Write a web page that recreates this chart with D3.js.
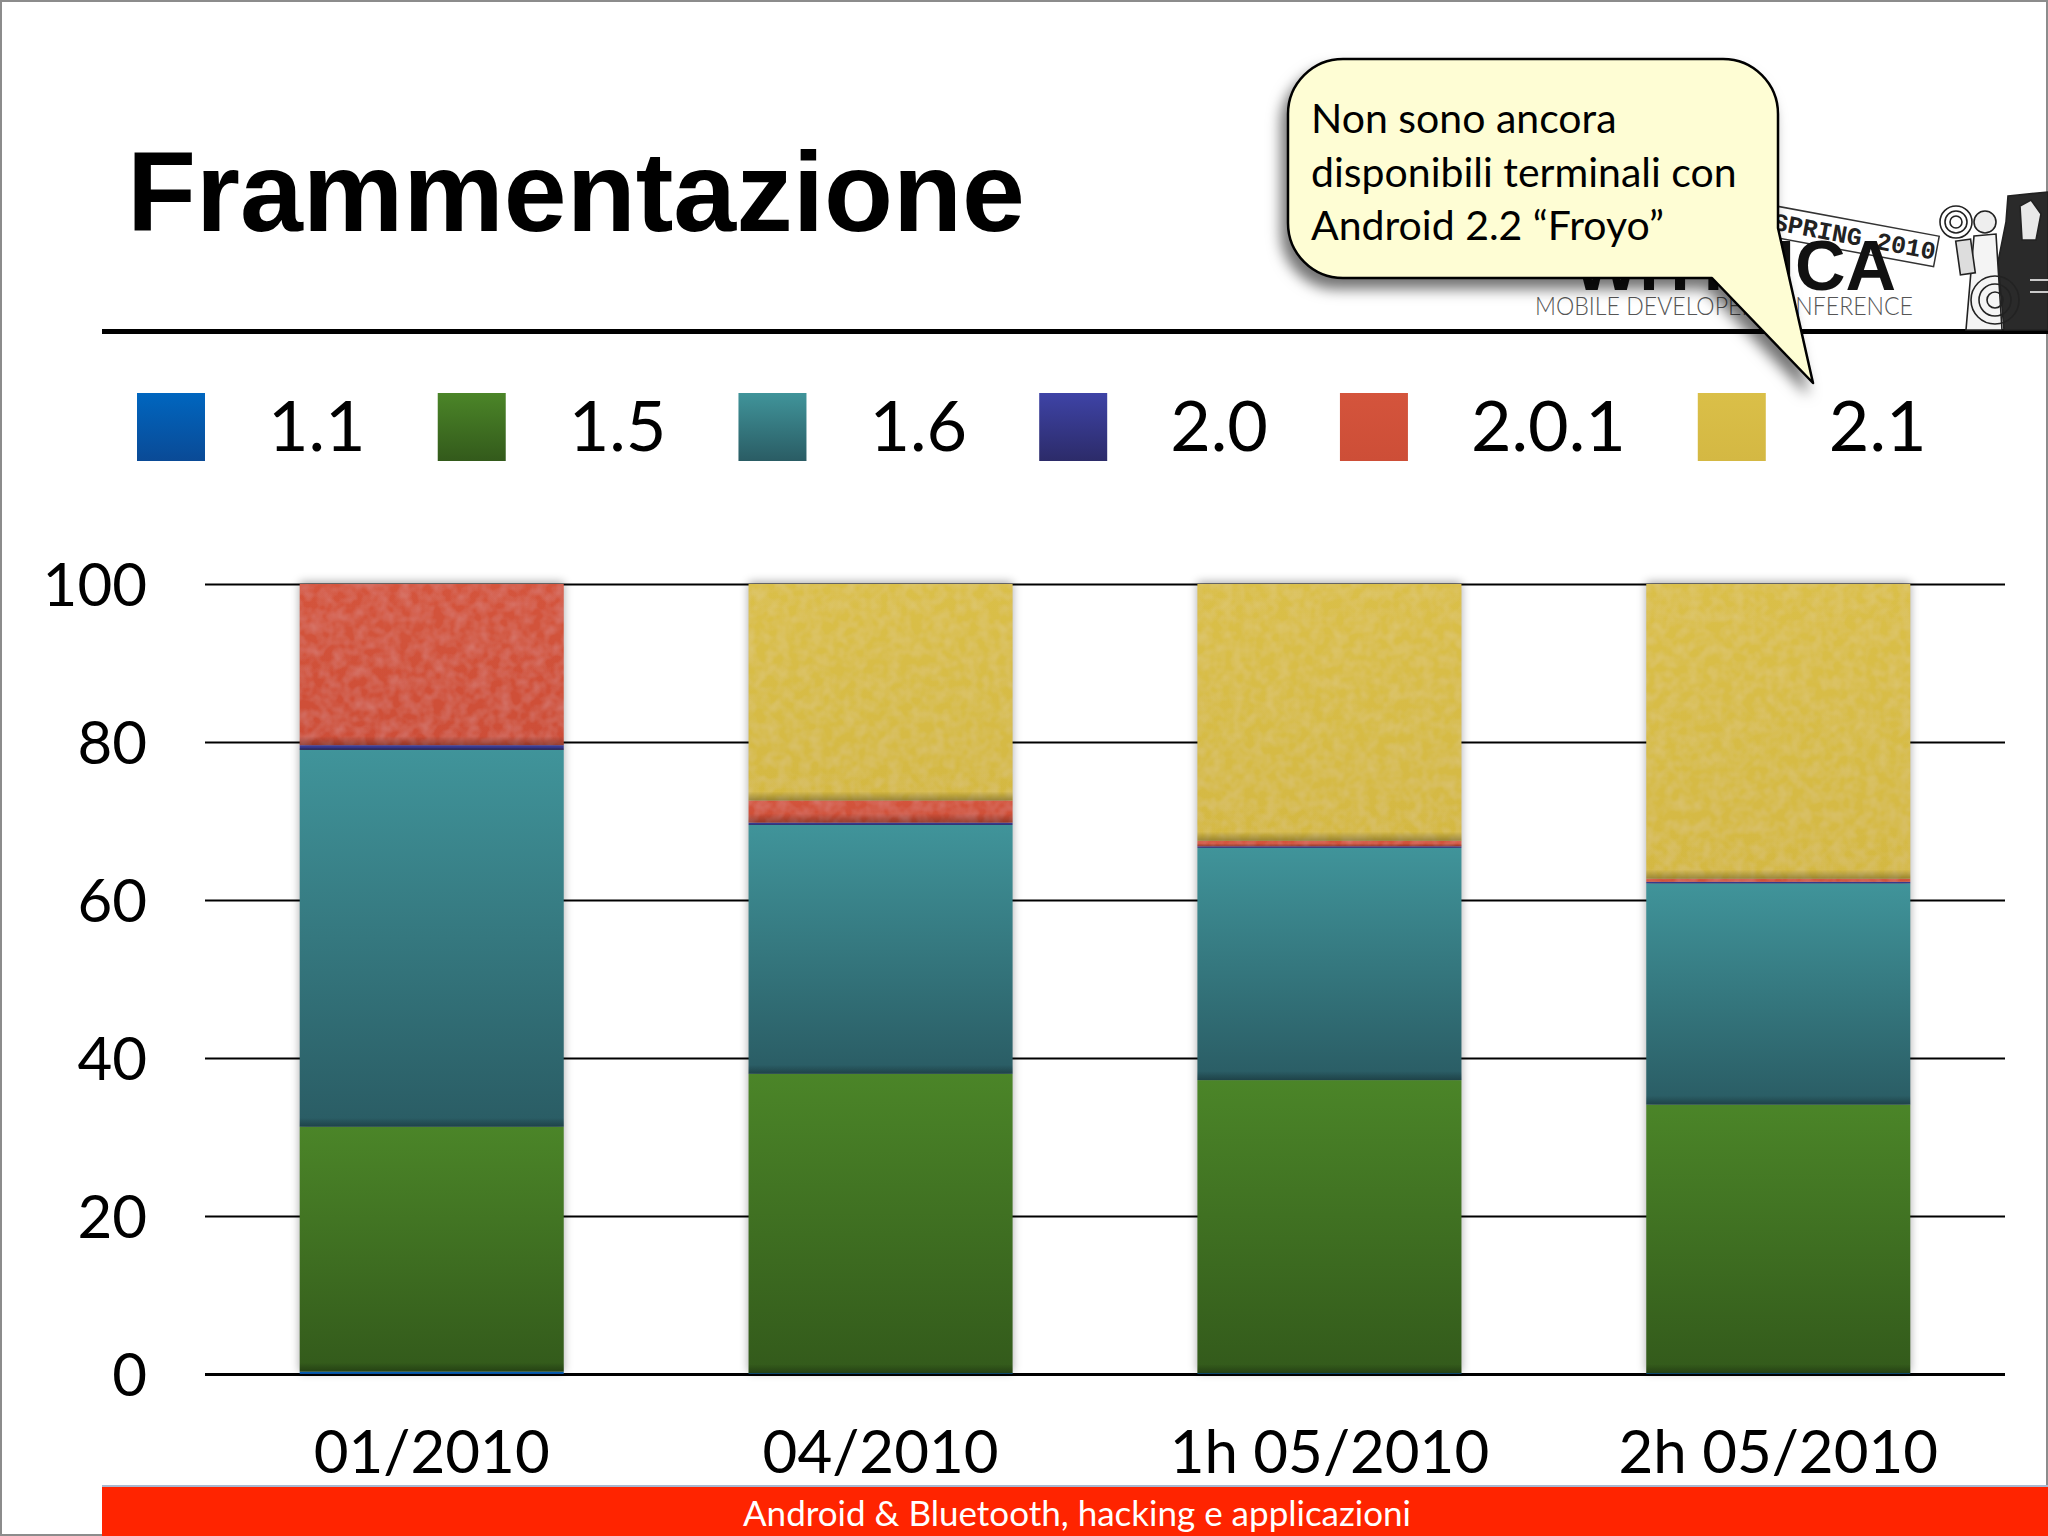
<!DOCTYPE html>
<html><head><meta charset="utf-8">
<script src="https://cdn.jsdelivr.net/npm/d3@7"></script>
<style>body{margin:0;background:#fff;} svg{display:block;}</style>
</head><body>
<script>
// ---------- data ----------
const categories = ["01/2010", "04/2010", "1h 05/2010", "2h 05/2010"];
const versions   = ["1.1", "1.5", "1.6", "2.0", "2.0.1", "2.1"];
const v11  = [0.3, 0.1, 0.1, 0.1];
const v15  = [31.0, 37.9, 37.1, 34.0];
const v16  = [47.7, 31.5, 29.4, 28.0];
const v20  = [0.6, 0.3, 0.2, 0.2];
const v201 = [20.4, 2.8, 0.7, 0.4];
const v21  = [0.0, 27.4, 32.5, 37.3];
const yTicks = [0, 20, 40, 60, 80, 100];
const titleText = "Frammentazione";
const calloutLines = ["Non sono ancora", "disponibili terminali con", "Android 2.2 \u201CFroyo\u201D"];
const footerText = "Android & Bluetooth, hacking e applicazioni";

// ---------- styles ----------
const colorTop    = ["#0066bf", "#4b8528", "#40949a", "#3e43a6", "#d4543c", "#dabf48"];
const colorBottom = ["#0a4a96", "#335a1b", "#2a5c64", "#2c2b69", "#cd4e37", "#d4b843"];

const W = 2048, H = 1536;
const seriesValues = [v11, v15, v16, v20, v201, v21];
const table = categories.map((c, i) => {
  const row = {cat: c};
  versions.forEach((v, k) => row[v] = seriesValues[k][i]);
  return row;
});

const svg = d3.select("body").append("svg").attr("width", W).attr("height", H)
  .style("font-family", "Lato, 'Open Sans', sans-serif");
const defs = svg.append("defs");

versions.forEach((v, k) => {
  const g = defs.append("linearGradient").attr("id", "grad" + k)
    .attr("x1", 0).attr("y1", 0).attr("x2", 0).attr("y2", 1);
  g.append("stop").attr("offset", 0).attr("stop-color", colorTop[k]);
  g.append("stop").attr("offset", 1).attr("stop-color", colorBottom[k]);
});
const sh = defs.append("linearGradient").attr("id", "segShade")
  .attr("x1", 0).attr("y1", 0).attr("x2", 0).attr("y2", 1);
sh.append("stop").attr("offset", 0).attr("stop-color", "#000").attr("stop-opacity", 0);
sh.append("stop").attr("offset", 1).attr("stop-color", "#000").attr("stop-opacity", 0.28);

const fShadow = defs.append("filter").attr("id", "barShadow")
  .attr("x", "-10%").attr("y", "-10%").attr("width", "120%").attr("height", "120%");
fShadow.append("feGaussianBlur").attr("in", "SourceAlpha").attr("stdDeviation", 5);
fShadow.append("feOffset").attr("dx", 0).attr("dy", -2).attr("result", "b");
fShadow.append("feComponentTransfer").attr("in", "b").attr("result", "bs")
  .append("feFuncA").attr("type", "linear").attr("slope", 0.35);

const fBubble = defs.append("filter").attr("id", "bubbleShadow")
  .attr("x", "-20%").attr("y", "-20%").attr("width", "140%").attr("height", "150%");
fBubble.append("feDropShadow").attr("dx", -6).attr("dy", 10).attr("stdDeviation", 7)
  .attr("flood-color", "#000").attr("flood-opacity", 0.55);

const fTex = defs.append("filter").attr("id", "tex").attr("x", 0).attr("y", 0).attr("width", 1).attr("height", 1);
fTex.append("feTurbulence").attr("type", "fractalNoise").attr("baseFrequency", 0.09)
  .attr("numOctaves", 2).attr("seed", 4).attr("result", "n");
fTex.append("feColorMatrix").attr("in", "n").attr("type", "matrix")
  .attr("values", "0 0 0 0 1  0 0 0 0 1  0 0 0 0 1  0.16 0 0 0 -0.05").attr("result", "w");
fTex.append("feComposite").attr("in", "w").attr("in2", "SourceGraphic").attr("operator", "in").attr("result", "wc");
const fm = fTex.append("feMerge");
fm.append("feMergeNode").attr("in", "SourceGraphic");
fm.append("feMergeNode").attr("in", "wc");

// ---------- frame ----------
svg.append("rect").attr("x", 1).attr("y", 1).attr("width", W - 2).attr("height", H - 2)
  .attr("fill", "#fff").attr("stroke", "#8c8c8c").attr("stroke-width", 2);

// ---------- title ----------
svg.append("text").attr("x", 127).attr("y", 231).text(titleText)
  .style("font-family", "'Liberation Sans', Arial, sans-serif").style("font-weight", "bold")
  .style("font-size", "113px").attr("fill", "#000");
svg.append("rect").attr("x", 102).attr("y", 329).attr("width", W - 102).attr("height", 5).attr("fill", "#000");

// ---------- logo (behind callout) ----------
const logo = svg.append("g");
const stamp = logo.append("g").attr("transform", "translate(1776,206) rotate(10.5)");
stamp.append("rect").attr("x", -12).attr("y", 0).attr("width", 178).attr("height", 31)
  .attr("fill", "#fff").attr("stroke", "#333").attr("stroke-width", 1.5);
stamp.append("text").attr("x", 0).attr("y", 24).text("SPRING 2010")
  .style("font-family", "'Liberation Mono', 'DejaVu Sans Mono', monospace").style("font-weight", "bold")
  .style("font-size", "25px").attr("fill", "#222");
logo.append("text").attr("x", 1896).attr("y", 290).attr("text-anchor", "end").text("WHYMCA")
  .style("font-family", "'Liberation Sans', Arial, sans-serif").style("font-weight", "bold")
  .style("font-size", "70px").attr("fill", "#111");
logo.append("text").attr("x", 1535).attr("y", 315).text("MOBILE DEVELOPER CONFERENCE")
  .attr("textLength", 378).attr("lengthAdjust", "spacingAndGlyphs")
  .style("font-weight", 300).style("font-size", "25px").attr("fill", "#555");
// illustration hint
const ill = logo.append("g").attr("stroke", "#222").attr("fill", "none").attr("stroke-width", 1.6);
ill.append("path").attr("d", "M2008,196 L2048,192 L2048,330 L2004,330 L1998,262 L2006,222 Z").attr("fill", "#2a2a2a");
ill.append("path").attr("d", "M1974,236 L1996,234 L2002,330 L1966,330 Z").attr("fill", "#f4f4f4");
[6, 11, 16].forEach(r => ill.append("circle").attr("cx", 1956).attr("cy", 222).attr("r", r));
[8, 16, 24].forEach(r => ill.append("circle").attr("cx", 1995).attr("cy", 300).attr("r", r));
ill.append("circle").attr("cx", 1985).attr("cy", 222).attr("r", 11).attr("fill", "#eee");
ill.append("rect").attr("x", 1958).attr("y", 240).attr("width", 15).attr("height", 34)
  .attr("transform", "rotate(-8,1965,257)").attr("fill", "#ddd");
ill.append("path").attr("d", "M2020,206 L2031,200 L2041,214 L2036,240 L2022,240 Z").attr("fill", "#e8e8e8");
ill.append("path").attr("d", "M2030,280 L2048,280 M2030,292 L2048,292").attr("stroke", "#fff");

// ---------- scales ----------
const x = d3.scaleBand().domain(categories).range([205, 2005]).paddingInner(0.4118).paddingOuter(0.211);
const y = d3.scaleLinear().domain([0, 100]).range([1374, 584]);

// gridlines + y labels
const yAxis = svg.append("g").attr("transform", "translate(205,0)")
  .call(d3.axisLeft(y).tickValues(yTicks).tickSize(-1800).tickPadding(58));
yAxis.select(".domain").remove();
yAxis.selectAll("line").attr("stroke", "#000").attr("stroke-width", d => d === 0 ? 3 : 2.2);
yAxis.selectAll("text").style("font-size", "60px").style("font-family", "Lato, sans-serif")
  .attr("fill", "#000").attr("dy", "0.36em");

// ---------- bars ----------
const stack = d3.stack().keys(versions)(table);
const barsG = svg.append("g");
barsG.selectAll("rect.bg").data(categories).join("rect").attr("class", "bg")
  .attr("x", d => x(d)).attr("width", x.bandwidth())
  .attr("y", y(100)).attr("height", y(0) - y(100))
  .attr("fill", "#000").attr("filter", "url(#barShadow)");

stack.forEach((layer, k) => {
  const g = barsG.append("g");
  const segs = g.selectAll("g").data(layer.filter(d => d[1] - d[0] > 0)).join("g");
  segs.append("rect")
    .attr("x", d => x(d.data.cat)).attr("width", x.bandwidth())
    .attr("y", d => y(d[1])).attr("height", d => y(d[0]) - y(d[1]))
    .attr("fill", `url(#grad${k})`)
    .attr("filter", (versions[k] === "2.1" || versions[k] === "2.0.1") ? "url(#tex)" : null);
  segs.filter(d => y(d[0]) - y(d[1]) > 4).append("rect")
    .attr("x", d => x(d.data.cat)).attr("width", x.bandwidth())
    .attr("y", d => y(d[0]) - Math.min(9, (y(d[0]) - y(d[1])) * 0.5))
    .attr("height", d => Math.min(9, (y(d[0]) - y(d[1])) * 0.5))
    .attr("fill", "url(#segShade)");
});

// x labels
const xAxis = svg.append("g").attr("transform", `translate(0,${y(0)})`)
  .call(d3.axisBottom(x).tickSize(0).tickPadding(56));
xAxis.select(".domain").remove();
xAxis.selectAll("text").style("font-size", "60px").style("font-family", "Lato, sans-serif").attr("fill", "#000");

// ---------- legend ----------
const legend = svg.append("g");
let lx = 137;
versions.forEach((v, k) => {
  legend.append("rect").attr("x", lx).attr("y", 393).attr("width", 68).attr("height", 68)
    .attr("fill", `url(#grad${k})`);
  const t = legend.append("text").attr("x", lx + 131).attr("y", 451).text(v)
    .style("font-size", "70px").attr("fill", "#000");
  lx = lx + 131 + t.node().getComputedTextLength() + 72;
});

// ---------- callout ----------
const bx0 = 1288, bx1 = 1778, by0 = 59, by1 = 278, r = 55;
const bubblePath = `M${bx0 + r},${by0} H${bx1 - r} A${r},${r} 0 0 1 ${bx1},${by0 + r} V228 L1813,383 L1712,${by1}
  H${bx0 + r} A${r},${r} 0 0 1 ${bx0},${by1 - r} V${by0 + r} A${r},${r} 0 0 1 ${bx0 + r},${by0} Z`;
svg.append("path").attr("d", bubblePath).attr("fill", "#fefdd4").attr("stroke", "#000")
  .attr("stroke-width", 2.5).attr("stroke-linejoin", "round").attr("filter", "url(#bubbleShadow)");
svg.append("g").selectAll("text").data(calloutLines).join("text")
  .attr("x", 1311).attr("y", (d, i) => 133 + i * 53.5).text(d => d)
  .style("font-size", "41px").attr("fill", "#000");

// ---------- footer ----------
svg.append("rect").attr("x", 102).attr("y", 1486).attr("width", W - 102).attr("height", 50).attr("fill", "#ff2400");
svg.append("line").attr("x1", 102).attr("x2", W).attr("y1", 1486).attr("y2", 1486)
  .attr("stroke", "#a9b8d0").attr("stroke-width", 2);
svg.append("text").attr("x", 1077).attr("y", 1526).attr("text-anchor", "middle").text(footerText)
  .style("font-size", "35px").attr("fill", "#fff");
</script>
</body></html>
